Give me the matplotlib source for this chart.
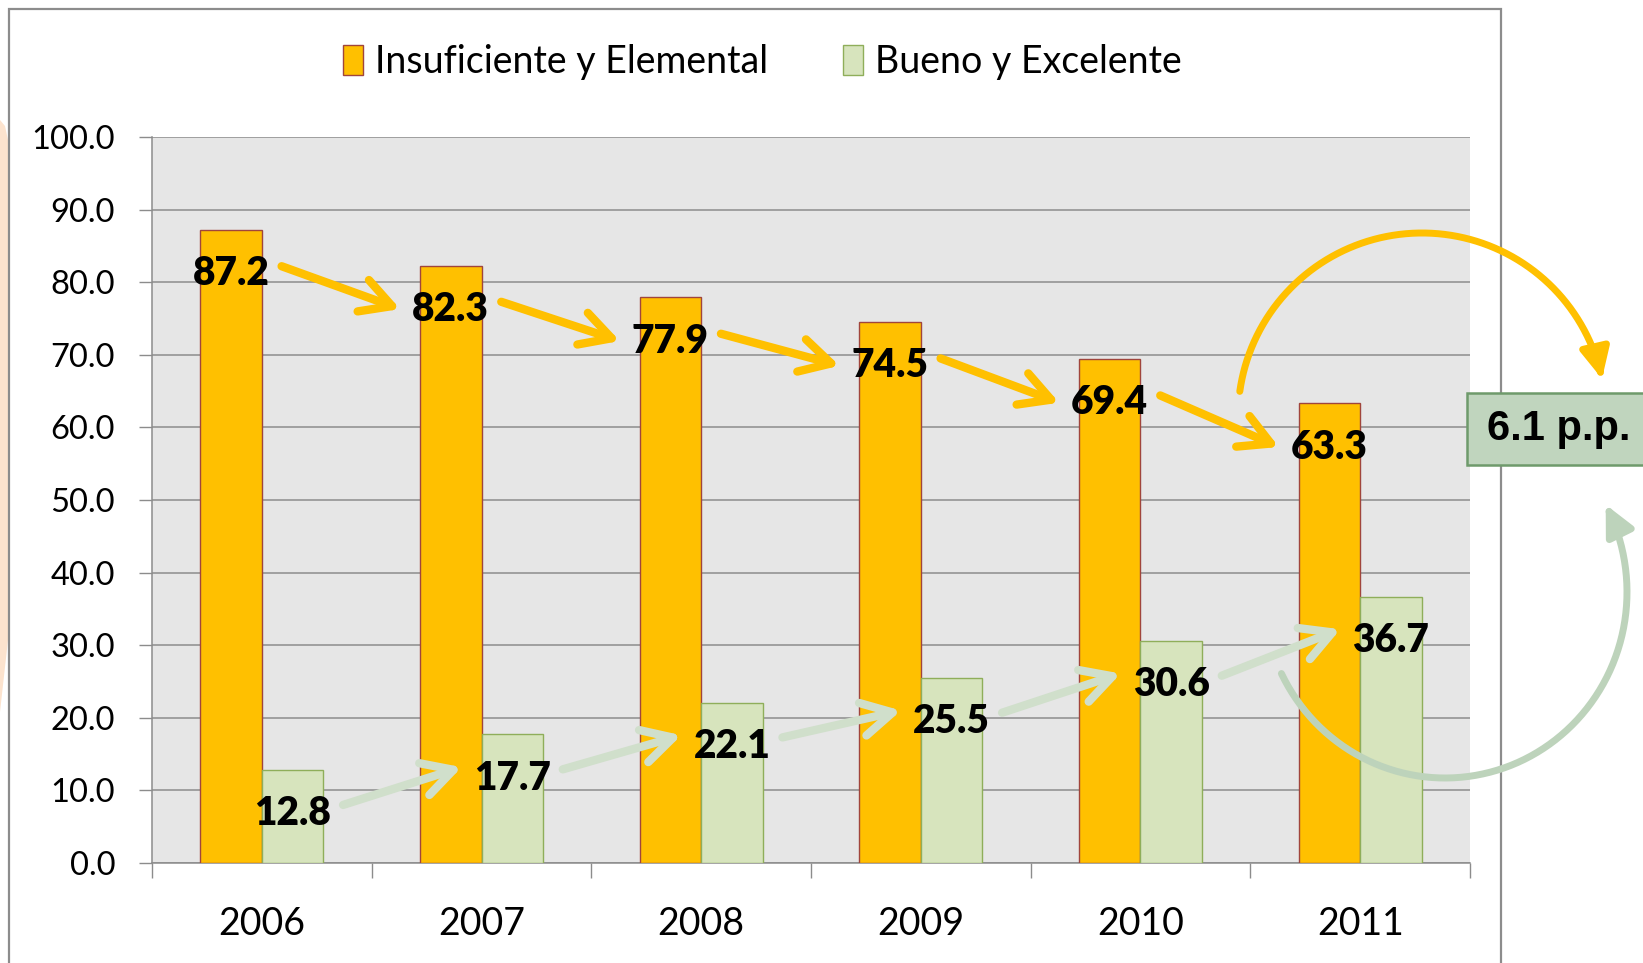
import numpy as np
import matplotlib
matplotlib.use("Agg")
import matplotlib.pyplot as plt
from matplotlib.patches import Rectangle, Polygon, FancyArrowPatch
from matplotlib.path import Path

years = ['2006', '2007', '2008', '2009', '2010', '2011']
insuficiente = [87.2, 82.3, 77.9, 74.5, 69.4, 63.3]
bueno = [12.8, 17.7, 22.1, 25.5, 30.6, 36.7]
series_names = ['Insuficiente y Elemental', 'Bueno y Excelente']
diff_label = '6.1 p.p.'

ORANGE = '#FFC000'
ORANGE_EDGE = '#A0453C'
GREEN = '#D7E4BD'
GREEN_EDGE = '#8FAE5A'
GREEN_ARROW = '#D0DFCB'
BIG_GREEN = '#BDD3BB'

W, H = 1643, 963
fig = plt.figure(figsize=(W / 100, H / 100), dpi=100)
plt.rcParams['font.family'] = ['Lato', 'DejaVu Sans']


def fx(px):
    return px / W


def fy(py):
    return 1 - py / H


# peach shape peeking in from the left and the chart frame
fig.patches.append(Polygon([(fx(0), fy(120)), (fx(5), fy(126)), (fx(8), fy(140)),
                            (fx(8), fy(640)), (fx(0), fy(712))],
                           closed=True, transform=fig.transFigure,
                           facecolor='#FCE3CE', edgecolor='none', zorder=0))
frame = Rectangle((fx(9), fy(990)), fx(1501 - 9), fy(9) - fy(990),
                  transform=fig.transFigure, facecolor='none',
                  edgecolor='#8C8C8C', linewidth=1.6, zorder=1)
fig.patches.append(frame)

ax = fig.add_axes([fx(152), fy(863), fx(1470 - 152), fy(137) - fy(863)])
ax.set_facecolor('#E6E6E6')

x = np.arange(len(years))
bw = 0.28
ax.bar(x - bw / 2, insuficiente, bw, color=ORANGE, edgecolor=ORANGE_EDGE,
       linewidth=1, zorder=3, label=series_names[0])
ax.bar(x + bw / 2, bueno, bw, color=GREEN, edgecolor=GREEN_EDGE,
       linewidth=1, zorder=3, label=series_names[1])

ax.set_xlim(-0.5, len(years) - 0.5)
ax.set_ylim(0, 100)
ax.set_yticks(np.arange(0, 101, 10))
ax.set_yticklabels([f'{v:.1f}' for v in np.arange(0, 101, 10)], fontsize=23.5)
ax.tick_params(axis='y', length=9.5, width=1, color='#8C8C8C', pad=17)
ax.set_xticks(np.arange(-0.5, len(years), 1.0))
ax.set_xticklabels([])
ax.tick_params(axis='x', length=11, width=1, color='#8C8C8C')
ax.set_xticks(x, minor=True)
ax.set_xticklabels(years, minor=True, fontsize=27)
ax.tick_params(axis='x', which='minor', length=0, pad=31)
ax.grid(axis='y', color='#8C8C8C', linewidth=1.1, zorder=1)
ax.set_axisbelow(True)
for side in ['top', 'right']:
    ax.spines[side].set_visible(False)
for side in ['left', 'bottom']:
    ax.spines[side].set_color('#8C8C8C')
    ax.spines[side].set_linewidth(1.1)

# value labels, sitting just under the bar tops
off = 6
lab_o = [(xi - bw / 2, v - off) for xi, v in zip(x, insuficiente)]
lab_g = [(xi + bw / 2, v - off) for xi, v in zip(x, bueno)]
for (lx, ly), v in zip(lab_o, insuficiente):
    ax.text(lx, ly, f'{v:.1f}', ha='center', va='center', fontsize=28,
            fontweight='heavy', zorder=6)
for (lx, ly), v in zip(lab_g, bueno):
    ax.text(lx, ly, f'{v:.1f}', ha='center', va='center', fontsize=28,
            fontweight='heavy', zorder=6)

# trend arrows between labels
for labs, col, dy0, dy1 in [(lab_o, ORANGE, 1.0, 0.0), (lab_g, GREEN_ARROW, 1.2, 1.5)]:
    for (x0, y0), (x1, y1) in zip(labs[:-1], labs[1:]):
        ax.annotate('', xy=(x1 - 0.23, y1 + dy1), xytext=(x0 + 0.23, y0 + dy0),
                    arrowprops=dict(arrowstyle='->,head_length=0.55,head_width=0.3',
                                    color=col, lw=6, mutation_scale=40,
                                    shrinkA=0, shrinkB=0, capstyle='round',
                                    joinstyle='round'),
                    zorder=5)


# curved arrows to the difference box (figure pixels)
def arc_path(cx, cy, rx, ry, a0, a1, n=80):
    t = np.radians(np.linspace(a0, a1, n))
    pts = [(fx(cx + rx * np.cos(a)), fy(cy - ry * np.sin(a))) for a in t]
    return Path(pts)


head = '-|>,head_length=0.45,head_width=0.22'
fig.patches.append(FancyArrowPatch(path=arc_path(1422, 417, 184, 184, 172, 12),
                                   arrowstyle=head, mutation_scale=40,
                                   color=ORANGE, lw=5,
                                   transform=fig.transFigure, zorder=7))
fig.patches.append(FancyArrowPatch(path=arc_path(1445, 592, 182, 186, 206, 388),
                                   arrowstyle=head, mutation_scale=40,
                                   color=BIG_GREEN, lw=5,
                                   transform=fig.transFigure, zorder=7))

fig.patches.append(Rectangle((fx(1467), fy(465)), fx(200), fy(393) - fy(465),
                             transform=fig.transFigure, facecolor='#C0D5BE',
                             edgecolor='#6E9A6B', linewidth=1.8, zorder=8))
fig.text(fx(1559), fy(429), diff_label, ha='center', va='center', fontsize=30,
         fontweight='bold', family=['Liberation Sans', 'DejaVu Sans'], zorder=9)

fig.legend(loc='center', bbox_to_anchor=(fx(762), fy(62)), ncol=2, frameon=False,
           fontsize=27, handlelength=0.55, handleheight=0.85, handletextpad=0.3,
           columnspacing=2.0)

fig.savefig('out.png', dpi=100)
